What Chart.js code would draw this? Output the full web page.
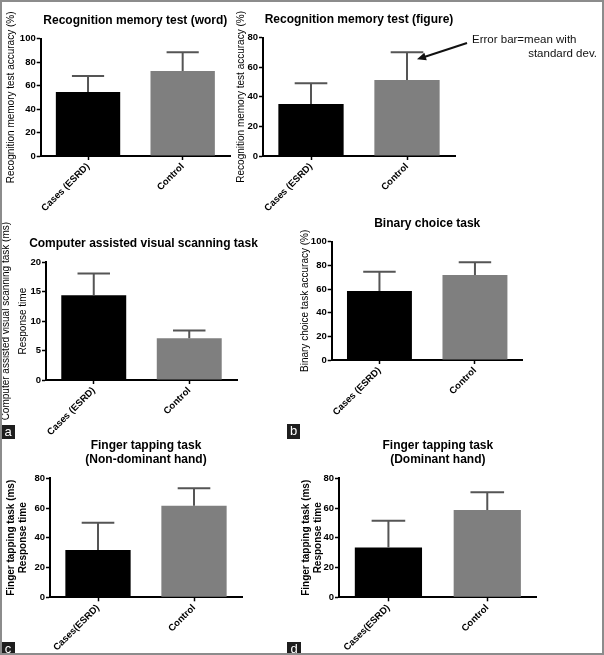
<!DOCTYPE html>
<html>
<head>
<meta charset="utf-8">
<script src="https://cdn.jsdelivr.net/npm/chart.js@4.4.0/dist/chart.umd.min.js"></script>
<style>
  html, body { margin: 0; padding: 0; background: #fff; }
  #fig { position: relative; width: 604px; height: 655px; overflow: hidden; background: #fff; }
  #fig canvas { position: absolute; }
  #frame { position: absolute; left: 0; top: 0; width: 604px; height: 655px; box-sizing: border-box; border: 2px solid #8c8c8c; }
  .tag { position: absolute; background: #1e1e1e; color: #fff; font: 13px "Liberation Sans", Arial, sans-serif; text-align: center; line-height: 13px; }
</style>
</head>
<body>
<div id="fig">
  <canvas id="word" width="240" height="212" style="left:2px;top:2px"></canvas>
  <canvas id="figure" width="370" height="212" style="left:232px;top:2px"></canvas>
  <canvas id="scan" width="275" height="222" style="left:-2px;top:215px"></canvas>
  <canvas id="binary" width="306" height="205" style="left:296px;top:215px"></canvas>
  <canvas id="nondom" width="248" height="222" style="left:2px;top:430px"></canvas>
  <canvas id="dom" width="306" height="222" style="left:296px;top:430px"></canvas>
  <div class="tag" style="left:1px;top:425px;width:14px;height:14px">a</div>
  <div class="tag" style="left:287px;top:424px;width:13px;height:15px">b</div>
  <div class="tag" style="left:1px;top:642px;width:14px;height:12px">c</div>
  <div class="tag" style="left:287px;top:642px;width:14px;height:12px">d</div>
  <div id="frame"></div>
</div>
<script>
/*global Chart*/
// categories
var groups = ["Cases (ESRD)", "Control"];
var groupsTight = ["Cases(ESRD)", "Control"];

// means and standard deviations
var wordMean = [54.5, 72.5];
var wordSD = [13.7, 15.9];
var figureMean = [35.2, 51.4];
var figureSD = [14.0, 18.7];
var scanMean = [14.4, 7.1];
var scanSD = [3.7, 1.3];
var binaryMean = [58.3, 71.8];
var binarySD = [16.3, 10.8];
var nondomMean = [31.8, 61.6];
var nondomSD = [18.4, 11.7];
var domMean = [33.4, 58.7];
var domSD = [18.1, 11.9];

// y axis ranges
var accuracyTicks = [0, 20, 40, 60, 80, 100];
var figureTicks = [0, 20, 40, 60, 80];
var scanTicks = [0, 5, 10, 15, 20];
var tappingTicks = [0, 20, 40, 60, 80];

var barColors = ["#000000", "#7f7f7f"];
var fam = '"Liberation Sans", Arial, sans-serif';
Chart.defaults.font.family = fam;
Chart.defaults.color = "#000";

var errorBars = {
    id: "errorBars",
    afterDatasetsDraw: function (chart) {
        var ctx = chart.ctx, y = chart.scales.y;
        var ds = chart.data.datasets[0];
        var meta = chart.getDatasetMeta(0);
        ctx.save();
        ctx.strokeStyle = "#555";
        ctx.lineWidth = 2;
        meta.data.forEach(function (bar, i) {
            var top = y.getPixelForValue(ds.data[i] + ds.sd[i]);
            var half = bar.width / 4;
            ctx.beginPath();
            ctx.moveTo(bar.x, bar.y);
            ctx.lineTo(bar.x, top);
            ctx.moveTo(bar.x - half, top);
            ctx.lineTo(bar.x + half, top);
            ctx.stroke();
        });
        ctx.restore();
    }
};

// title wider than its plot: drawn here so it is not squeezed
var wideTitle = {
    id: "wideTitle",
    afterDraw: function (chart, args, opts) {
        if (!opts || !opts.text) return;
        var ctx = chart.ctx, area = chart.chartArea;
        ctx.save();
        ctx.fillStyle = "#000";
        ctx.font = "bold 12px " + fam;
        ctx.textAlign = "center";
        ctx.textBaseline = "middle";
        ctx.fillText(opts.text, (area.left + area.right) / 2 + opts.dx, opts.y);
        ctx.restore();
    }
};

// note on panel b: arrow points at the control error bar
var sdNote = {
    id: "sdNote",
    afterDraw: function (chart) {
        if (chart.canvas.id !== "figure") return;
        var ctx = chart.ctx, area = chart.chartArea, y = chart.scales.y;
        var ds = chart.data.datasets[0];
        var bar = chart.getDatasetMeta(0).data[1];
        var capY = y.getPixelForValue(ds.data[1] + ds.sd[1]);
        ctx.save();
        ctx.fillStyle = "#111";
        ctx.font = "11.5px " + fam;
        ctx.textBaseline = "middle";
        ctx.textAlign = "left";
        ctx.fillText("Error bar=mean with", area.right + 17, 38);
        ctx.textAlign = "right";
        ctx.fillText("standard dev.", chart.width - 5, 52);
        var x0 = area.right + 12, y0 = 41;
        var x1 = bar.x + 10, y1 = capY + 7;
        var ang = Math.atan2(y1 - y0, x1 - x0);
        ctx.strokeStyle = "#111";
        ctx.lineWidth = 2;
        ctx.beginPath();
        ctx.moveTo(x0, y0);
        ctx.lineTo(x1 - 6 * Math.cos(ang), y1 - 6 * Math.sin(ang));
        ctx.stroke();
        ctx.beginPath();
        ctx.moveTo(x1, y1);
        ctx.lineTo(x1 - 9 * Math.cos(ang) + 4 * Math.sin(ang), y1 - 9 * Math.sin(ang) - 4 * Math.cos(ang));
        ctx.lineTo(x1 - 9 * Math.cos(ang) - 4 * Math.sin(ang), y1 - 9 * Math.sin(ang) + 4 * Math.cos(ang));
        ctx.closePath();
        ctx.fill();
        ctx.restore();
    }
};

function panel(id, p) {
    var ticks = p.ticks;
    new Chart(document.getElementById(id).getContext("2d"), {
        type: "bar",
        data: {
            labels: p.labels,
            datasets: [{
                data: p.mean,
                sd: p.sd,
                backgroundColor: barColors,
                borderWidth: 0,
                barPercentage: 0.68,
                categoryPercentage: 1.0
            }]
        },
        options: {
            responsive: false,
            animation: false,
            layout: { padding: { left: 0, right: p.padRight, top: p.padTop || 0, bottom: 0 } },
            plugins: {
                legend: { display: false },
                tooltip: { enabled: false },
                title: {
                    display: !p.wide,
                    text: p.title,
                    fullSize: false,
                    color: "#000",
                    font: { size: 12, weight: "bold", lineHeight: 1.2 },
                    padding: { top: p.tTop, bottom: p.tBottom }
                },
                wideTitle: p.wide || {}
            },
            scales: {
                x: {
                    grid: { offset: false, drawOnChartArea: false, tickLength: 4, tickColor: "#000", tickWidth: 1.5 },
                    border: { display: true, color: "#000", width: 2 },
                    ticks: { minRotation: 45, maxRotation: 45, padding: 1, color: "#000",
                        font: { size: 9.5, weight: "bold" } },
                    afterFit: function (s) { s.height = p.xH; }
                },
                y: {
                    min: ticks[0],
                    max: ticks[ticks.length - 1],
                    ticks: { stepSize: ticks[1] - ticks[0], padding: 1, color: "#000",
                        font: { size: 9.5, weight: "bold" } },
                    grid: { drawOnChartArea: false, tickLength: 4, tickColor: "#000", tickWidth: 1.5 },
                    border: { display: true, color: "#000", width: 2 },
                    title: {
                        display: true,
                        text: p.yTitle,
                        color: "#000",
                        font: { size: 10, weight: p.yBold ? "bold" : "normal", lineHeight: p.yLine },
                        padding: { top: p.yPad, bottom: 0 }
                    },
                    afterFit: function (s) { s.width = p.yW; }
                }
            }
        },
        plugins: [errorBars, wideTitle, sdNote]
    });
}

panel("word", {
    labels: groups, mean: wordMean, sd: wordSD, ticks: accuracyTicks,
    title: "Recognition memory test (word)", yTitle: "Recognition memory test accuracy (%)",
    yW: 38.7, xH: 58, padRight: 12, tTop: 11.8, tBottom: 10.5, yPad: 3, yLine: 1.2
});
panel("figure", {
    labels: groups, mean: figureMean, sd: figureSD, ticks: figureTicks,
    title: "Recognition memory test (figure)", yTitle: "Recognition memory test accuracy (%)",
    yW: 31, xH: 58, padRight: 147, tTop: 10.8, tBottom: 10.5, yPad: 3, yLine: 1.2
});
panel("scan", {
    labels: groups, mean: scanMean, sd: scanSD, ticks: scanTicks,
    wide: { text: "Computer assisted visual scanning task", dx: 2, y: 29 },
    yTitle: ["Computer assisted visual scanning task (ms)", "Response time"],
    yW: 48, xH: 57, padRight: 36, padTop: 47.3, yPad: 0, yLine: 1.7
});
panel("binary", {
    labels: groups, mean: binaryMean, sd: binarySD, ticks: accuracyTicks,
    title: "Binary choice task", yTitle: "Binary choice task accuracy (%)",
    yW: 35.7, xH: 60, padRight: 79.3, tTop: 1.8, tBottom: 10.5, yPad: 3, yLine: 1.2
});
panel("nondom", {
    labels: groupsTight, mean: nondomMean, sd: nondomSD, ticks: tappingTicks,
    title: ["Finger tapping task", "(Non-dominant hand)"],
    yTitle: ["Finger tapping task (ms)", "Response time"], yBold: true,
    yW: 48, xH: 54.7, padRight: 8, tTop: 8.5, tBottom: 11, yPad: 2.75, yLine: 1.25
});
panel("dom", {
    labels: groupsTight, mean: domMean, sd: domSD, ticks: tappingTicks,
    title: ["Finger tapping task", "(Dominant hand)"],
    yTitle: ["Finger tapping task (ms)", "Response time"], yBold: true,
    yW: 43, xH: 54.7, padRight: 65.3, tTop: 8.5, tBottom: 11, yPad: 3.75, yLine: 1.25
});
</script>
</body>
</html>
